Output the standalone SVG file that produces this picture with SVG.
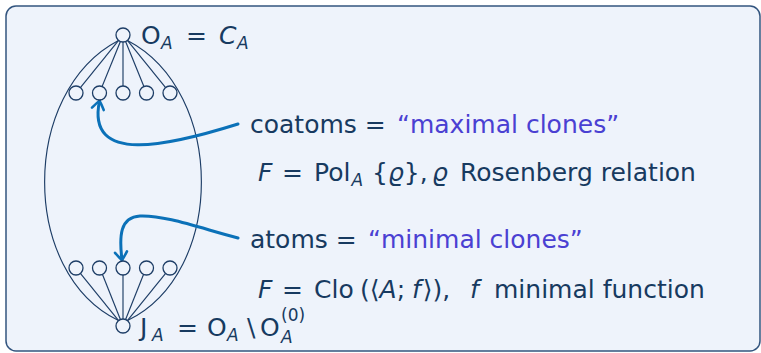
<svg xmlns="http://www.w3.org/2000/svg" width="761" height="353" viewBox="0 0 761 353">
<style>
.t{font-family:"DejaVu Sans",sans-serif;font-size:25px;fill:#173a60}
.i{font-style:italic}
.s{font-size:17px}
.p{fill:#4a40d2}
.e{stroke:#1d3d66;stroke-width:1.15;fill:none}
.n{fill:#eef3fb;stroke:#1d3d66;stroke-width:1.3}
.a{stroke:#0b71b8;stroke-width:3;fill:none;stroke-linecap:round}
</style>
<defs>
<marker id="ah" viewBox="-10 -8 12 16" markerWidth="12" markerHeight="16" refX="0" refY="0" orient="auto" markerUnits="userSpaceOnUse">
<path d="M -8,-6 Q -2,-2 0,0 Q -2,2 -8,6" fill="none" stroke="#0b71b8" stroke-width="2.6" stroke-linecap="round"/>
</marker>
</defs>
<rect x="6" y="6" width="754" height="345" rx="10" fill="#eef3fb" stroke="#33557f" stroke-width="1.5"/>
<g id="connectors">
<path class="e" d="M118.5,40.5 C20,92 20,273 118.5,320.5"/>
<path class="e" d="M127.5,40.5 C226,92 226,273 127.5,320.5"/>
<line class="e" x1="118.6" y1="40.4" x2="80.4" y2="87.6"/>
<line class="e" x1="120.4" y1="41.5" x2="102.1" y2="86.5"/>
<line class="e" x1="123" y1="42" x2="123" y2="86"/>
<line class="e" x1="125.6" y1="41.5" x2="143.9" y2="86.5"/>
<line class="e" x1="127.4" y1="40.4" x2="165.6" y2="87.6"/>
<line class="e" x1="118.6" y1="320.6" x2="80.4" y2="273.4"/>
<line class="e" x1="120.4" y1="319.5" x2="102.1" y2="273.5"/>
<line class="e" x1="123" y1="319" x2="123" y2="275"/>
<line class="e" x1="125.6" y1="319.5" x2="143.9" y2="273.5"/>
<line class="e" x1="127.4" y1="320.6" x2="165.6" y2="273.4"/>
<path class="a" d="M238,124 C168,146 86,165 99.5,101" marker-end="url(#ah)"/>
<path class="a" d="M238,238 C200,228 165,215 140,216 C120,217 119,236 122,260" marker-end="url(#ah)"/>
</g>
<g id="top">
<circle class="n" cx="123" cy="35" r="7"/>
<text class="t" x="141" y="44">O<tspan class="i s" x="161" dy="5">A</tspan><tspan x="186" dy="-5">=</tspan><tspan class="i" x="219">C</tspan><tspan class="i s" x="237" dy="5">A</tspan></text>
</g>
<g id="coatoms">
<circle class="n" cx="76" cy="93" r="7"/>
<circle class="n" cx="99.5" cy="93" r="7"/>
<circle class="n" cx="123" cy="93" r="7"/>
<circle class="n" cx="146.5" cy="93" r="7"/>
<circle class="n" cx="170" cy="93" r="7"/>
</g>
<g id="atoms">
<circle class="n" cx="76" cy="268" r="7"/>
<circle class="n" cx="99.5" cy="268" r="7"/>
<circle class="n" cx="123" cy="268" r="7"/>
<circle class="n" cx="146.5" cy="268" r="7"/>
<circle class="n" cx="170" cy="268" r="7"/>
</g>
<g id="bottom">
<circle class="n" cx="123" cy="326" r="7"/>
<text class="t" x="140" y="336">J<tspan class="i s" x="152" dy="5">A</tspan><tspan x="177" dy="-5">=</tspan><tspan x="207">O</tspan><tspan class="i s" x="227" dy="5">A</tspan><tspan x="247" dy="-5">\</tspan><tspan x="260">O</tspan><tspan class="i s" x="281" dy="7">A</tspan><tspan class="s" x="281" dy="-22">(0)</tspan></text>
</g>
<g id="coatom-label">
<text class="t" x="250" y="133">coatoms =<tspan class="p" x="397">“maximal clones”</tspan></text>
<text class="t" x="258" y="181"><tspan class="i">F</tspan><tspan x="282">=</tspan><tspan x="314">Pol</tspan><tspan class="i s" dx="1" dy="5">A</tspan><tspan x="372" dy="-5">{<tspan class="i">ϱ</tspan>},</tspan><tspan class="i" x="432">ϱ</tspan><tspan x="460">Rosenberg relation</tspan></text>
</g>
<g id="atom-label">
<text class="t" x="250" y="248">atoms =<tspan class="p" x="368">“minimal clones”</tspan></text>
<text class="t" x="258" y="298"><tspan class="i">F</tspan><tspan x="282">=</tspan><tspan x="314">Clo</tspan><tspan x="360">(⟨<tspan class="i">A</tspan>;</tspan><tspan class="i" x="412">f</tspan><tspan dx="2">⟩),</tspan><tspan class="i" x="470">f</tspan><tspan x="494">minimal function</tspan></text>
</g>
</svg>
